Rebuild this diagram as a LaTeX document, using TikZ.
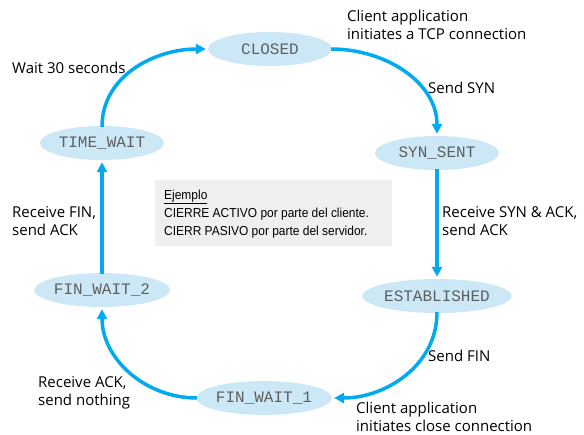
\documentclass[tikz,border=0pt]{standalone}
\usepackage{fontspec}
\setmainfont{Open Sans}
\newfontfamily\statefont{Liberation Mono}
\newfontfamily\notefont[FakeStretch=0.92]{Liberation Sans}
\usetikzlibrary{arrows.meta,shapes.geometric}
\definecolor{flowblue}{RGB}{0,170,240}
\definecolor{statefill}{RGB}{204,232,247}
\definecolor{statetext}{RGB}{95,95,95}
\definecolor{notefill}{RGB}{239,239,239}
\tikzset{
  state/.style={ellipse, fill=statefill, minimum width=124pt, minimum height=34pt,
    inner sep=0pt, text=statetext, font=\statefont\fontsize{16}{16}\selectfont},
  flow/.style={draw=flowblue, line width=3.5pt,
    -{Triangle[length=10pt,width=10pt]}, shorten >=2pt, shorten <=-1pt},
  % multi-line labels are placed by the baseline of their last line
  lbl/.style={align=left, anchor=base west, inner sep=0pt,
    font=\fontsize{15}{18}\selectfont},
}
\begin{document}
\begin{tikzpicture}[x=1pt,y=-1pt]
  \useasboundingbox (0,0) rectangle (584,434);

  % note box
  \node[fill=notefill, minimum width=237pt, minimum height=66pt, anchor=north west,
        inner sep=0pt] (notebox) at (155,180) {};
  \node[anchor=base west, align=left, inner sep=0pt,
        font=\notefont\fontsize{13}{18}\selectfont] (note) at (164,235.5)
    {\underline{Ejemplo}\\CIERRE ACTIVO por parte del cliente.\\CIERR PASIVO por parte del servidor.};

  % states
  \node[state] (closed)   at (270,49)  {CLOSED};
  \node[state] (synsent)  at (437,153) {SYN\_SENT};
  \node[state] (estab)    at (437,296) {ESTABLISHED};
  \node[state] (finwait1) at (264,398) {FIN\_WAIT\_1};
  \node[state] (finwait2) at (102,290) {FIN\_WAIT\_2};
  \node[state] (timewait) at (102,143) {TIME\_WAIT};

  % transitions
  \draw[flow] (closed.east) to[out=0,in=90] (synsent.north);
  \draw[flow] (synsent.south) -- (estab.north);
  \draw[flow] (estab.south) to[out=-90,in=0] (finwait1.east);
  \draw[flow] (finwait1.west) to[out=180,in=-90] (finwait2.south);
  \draw[flow] (finwait2.north) -- (timewait.south);
  \draw[flow] (timewait.north) to[out=90,in=180] (closed.west);

  % labels
  \node[lbl] (l1) at (347,39)  {Client application\\initiates a TCP connection};
  \node[lbl] (l2) at (12,73)   {Wait 30 seconds};
  \node[lbl] (l3) at (428,93)  {Send SYN};
  \node[lbl] (l4) at (442,235) {Receive SYN \& ACK,\\send ACK};
  \node[lbl] (l5) at (12,235)  {Receive FIN,\\send ACK};
  \node[lbl] (l6) at (428,361) {Send FIN};
  \node[lbl] (l7) at (38,405)  {Receive ACK,\\send nothing};
  \node[lbl] (l8) at (356,431) {Client application\\initiates close connection};
\end{tikzpicture}
\end{document}
